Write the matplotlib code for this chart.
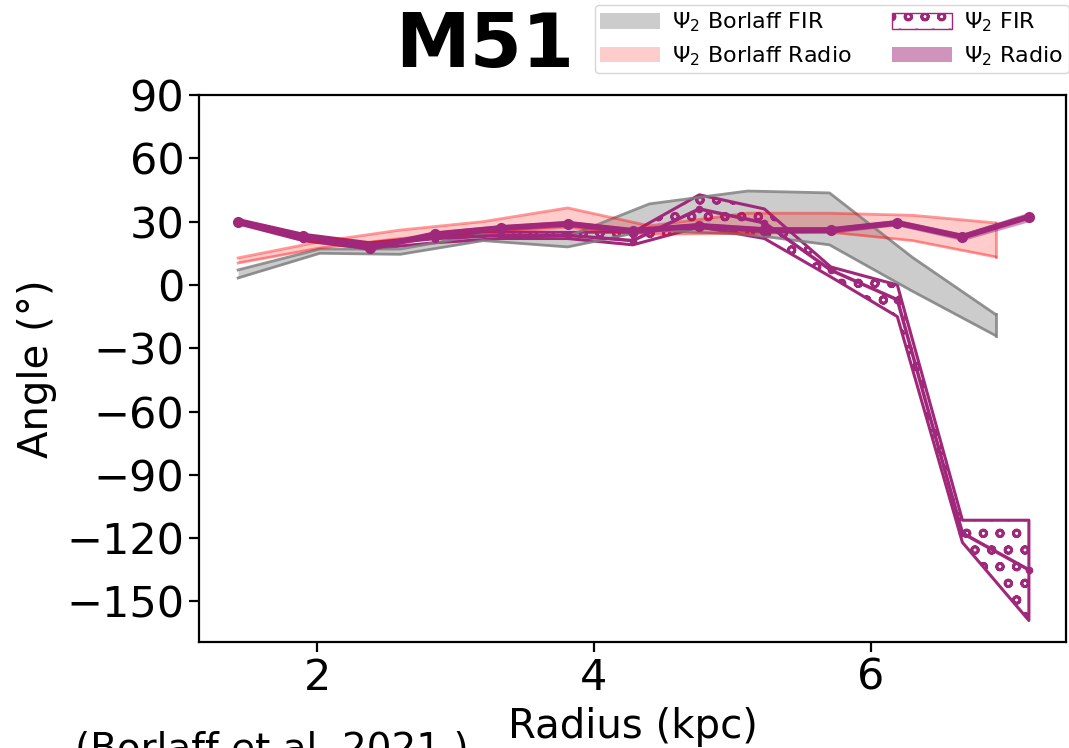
import numpy as np
import matplotlib
matplotlib.use("Agg")
import matplotlib.pyplot as plt
from matplotlib.patches import Patch

# Borlaff et al. (2021) profiles
r_borlaff = [1.43, 2.02, 2.60, 3.20, 3.81, 4.40, 5.11, 5.70, 6.30, 6.90]
borlaff_fir_lo = [3.3, 15.0, 14.5, 21.0, 18.0, 26.0, 24.0, 19.0, -3.0, -24.0]
borlaff_fir_hi = [7.1, 17.0, 17.0, 24.0, 23.0, 38.4, 44.5, 43.6, 13.0, -14.0]
borlaff_rad_lo = [10.4, 17.5, 22.0, 25.0, 27.0, 24.0, 24.5, 25.0, 21.0, 13.3]
borlaff_rad_hi = [12.8, 20.5, 26.0, 30.0, 36.5, 28.0, 34.0, 34.0, 33.0, 29.4]

# Psi_2 profiles
r_psi = [1.43, 1.90, 2.38, 2.85, 3.33, 3.81, 4.28, 4.76, 5.23, 5.71, 6.19, 6.66, 7.14]
fir_mid = [30.0, 22.0, 19.0, 22.0, 23.5, 23.5, 21.0, 36.0, 29.4, 7.0, -7.0, -117.6, -135.0]
fir_lo = [29.0, 21.0, 17.0, 20.0, 22.0, 22.0, 19.0, 27.5, 22.0, 3.8, -15.0, -122.0, -159.0]
fir_hi = [31.0, 24.0, 20.0, 23.0, 25.0, 25.0, 25.0, 42.7, 36.0, 8.5, 0.0, -111.5, -111.5]
rad_mid = [30.0, 23.0, 17.5, 24.0, 27.0, 29.0, 25.6, 28.0, 26.0, 26.0, 29.4, 22.8, 32.3]
rad_lo = [28.5, 21.5, 16.0, 22.5, 25.5, 27.5, 24.0, 26.5, 24.5, 24.5, 28.0, 21.0, 30.0]
rad_hi = [31.5, 24.5, 19.0, 25.5, 28.5, 30.5, 27.0, 29.5, 27.5, 27.5, 31.0, 24.5, 34.5]

PURPLE = "#a0287a"
TICK_FS = 31
LABEL_FS = 29

plt.rcParams["hatch.linewidth"] = 2.0
fig = plt.figure(figsize=(10.69, 7.48), dpi=100)
ax = fig.add_axes([0.1862, 0.1417, 0.8110, 0.7313])

# Borlaff bands
ax.fill_between(r_borlaff, borlaff_fir_lo, borlaff_fir_hi, color="gray", alpha=0.4, lw=0)
ax.plot(r_borlaff, borlaff_fir_lo, color="gray", alpha=0.85, lw=2)
ax.plot(r_borlaff, borlaff_fir_hi, color="gray", alpha=0.85, lw=2)
ax.plot([r_borlaff[-1]] * 2, [borlaff_fir_lo[-1], borlaff_fir_hi[-1]], color="gray", alpha=0.85, lw=2)

ax.fill_between(r_borlaff, borlaff_rad_lo, borlaff_rad_hi, color="red", alpha=0.2, lw=0)
ax.plot(r_borlaff, borlaff_rad_lo, color="red", alpha=0.4, lw=2)
ax.plot(r_borlaff, borlaff_rad_hi, color="red", alpha=0.4, lw=2)
ax.plot([r_borlaff[-1]] * 2, [borlaff_rad_lo[-1], borlaff_rad_hi[-1]], color="red", alpha=0.4, lw=2)

# Psi_2 FIR (hatched)
ax.fill_between(r_psi, fir_lo, fir_hi, facecolor="none", edgecolor=PURPLE,
                hatch="o", lw=2.2)
ax.plot(r_psi, fir_mid, color=PURPLE, lw=2.5, marker="o", ms=4.5)

# Psi_2 Radio
ax.fill_between(r_psi, rad_lo, rad_hi, color=PURPLE, alpha=0.5, lw=0)
ax.plot(r_psi, rad_mid, color=PURPLE, lw=4.2, marker="o", ms=7)

ax.set_xlim(1.148, 7.408)
ax.set_ylim(-169.2, 90)
ax.set_yticks(np.arange(-150, 91, 30))
ax.set_xticks([2, 4, 6])
ax.tick_params(labelsize=TICK_FS, length=7, width=1.6)
for s in ax.spines.values():
    s.set_linewidth(1.6)

ax.set_xlabel("Radius (kpc)", fontsize=LABEL_FS, labelpad=6)
ax.set_ylabel("Angle (°)", fontsize=LABEL_FS, labelpad=7)

fig.text(0.453, 1 - 67 / 748, "M51", fontsize=54, fontweight="bold", ha="center", va="baseline")
fig.text(0.070, 1 - 731 / 748, "(Borlaff et al. 2021 )", fontsize=28, ha="left", va="top")

handles = [
    Patch(facecolor="gray", alpha=0.4, label=r"$\Psi_2$ Borlaff FIR"),
    Patch(facecolor="red", alpha=0.2, label=r"$\Psi_2$ Borlaff Radio"),
    Patch(facecolor="none", edgecolor=PURPLE, hatch="o", label=r"$\Psi_2$ FIR"),
    Patch(facecolor=PURPLE, alpha=0.5, label=r"$\Psi_2$ Radio"),
]
fig.legend(handles=handles, ncol=2, fontsize=16, loc="upper right",
           bbox_to_anchor=(1.0, 1 - 5 / 748), borderaxespad=0, borderpad=0.25,
           handlelength=2.7, handletextpad=0.55, columnspacing=1.8,
           labelspacing=0.45)

fig.savefig("out.png", dpi=100)
